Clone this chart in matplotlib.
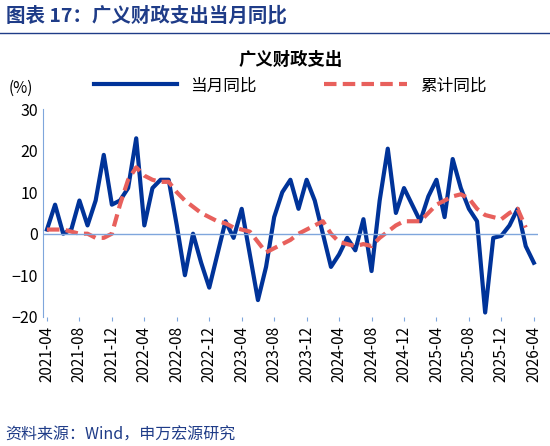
import matplotlib
matplotlib.use('Agg')
import matplotlib.pyplot as plt
import numpy as np
import pandas as pd

plt.rcParams['font.family'] = ['Noto Sans CJK SC', 'DejaVu Sans']

months = pd.period_range('2021-04', '2026-04', freq='M').strftime('%Y-%m').tolist()
monthly = [1, 7, 0, 1, 8, 2, 8, 19, 7, 8, 11, 23, 2, 11, 13, 13, 2, -10, 0, -7,
           -13, -5, 3, -1, 6, -5, -16, -8, 4, 10, 13, 6, 13, 8, 0, -8, -5, -1, -4, 3.5,
           -9, 8, 20.5, 5, 11, 7, 3, 9, 13, 4, 18, 11, 6, 3, -19, -1, -0.5, 2, 6, -3, -7]
cumulative = [1, 1, 1, 0.5, 0, 0, -1, -1, 0, 7, 13, 16, 14, 13, 12.5, 12.5, 10, 8, 6.5, 5,
              4, 3, 2.5, 1.5, 1, 0.5, -2, -4.5, -3.5, -2.5, -1.5, 0, 1, 2, 3, 0, -2, -2.5, -3, -2.5,
              -3, -1, 0.5, 2, 3, 3, 3, 5, 7, 8, 9, 9.5, 8.5, 6, 4.5, 4, 3.5, 5, 6, 1.5, np.nan]

navy = '#003399'
red = '#e8605c'
axc = '#7fa6dc'

fig = plt.figure(figsize=(5.5, 4.46), dpi=100)
fig.text(0.01, 0.952, '图表 17：广义财政支出当月同比', fontsize=14, fontweight='bold', color='#1f3c88')
fig.add_artist(plt.Line2D([0.0, 1.0], [0.925, 0.925], color='#1f3c88', lw=1))
fig.text(0.01, 0.015, '资料来源：Wind，申万宏源研究', fontsize=11.5, color='#1f3c88')

ax = fig.add_axes([0.078, 0.29, 0.9, 0.465])
x = np.arange(len(months))
ax.plot(x, monthly, color=navy, lw=3, label='当月同比', solid_joinstyle='round')
ax.plot(x, cumulative, color=red, lw=3, ls=(0, (3, 1.5)), label='累计同比')
ax.axhline(0, color=axc, lw=1)
ax.set_ylim(-20, 30)
ax.set_xlim(-0.5, 60.5)
ax.set_yticks([-20, -10, 0, 10, 20, 30])
ax.set_xticks(x[::4])
ax.set_xticklabels(months[::4], rotation=90, fontsize=11)
ax.tick_params(axis='y', labelsize=11.5, length=0)
ax.tick_params(axis='x', length=3, color=axc)
for s in ['top', 'right', 'bottom']:
    ax.spines[s].set_visible(False)
ax.spines['left'].set_color(axc)
ax.text(-0.07, 1.08, '(%)', transform=ax.transAxes, fontsize=11)
ax.set_title('广义财政支出', fontsize=12.5, fontweight='bold', pad=32)
ax.legend(loc='lower center', bbox_to_anchor=(0.5, 1.0), ncol=2, frameon=False,
          fontsize=12, handlelength=5, columnspacing=4)
fig.savefig('out.png')
